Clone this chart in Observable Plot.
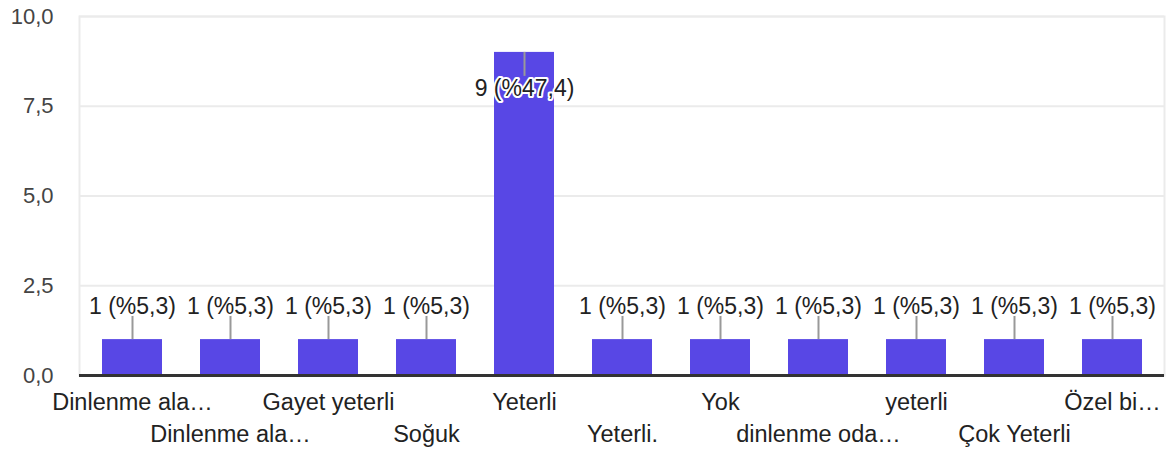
<!DOCTYPE html>
<html><head><meta charset="utf-8">
<script src="https://cdn.jsdelivr.net/npm/d3@7"></script>
<script src="https://cdn.jsdelivr.net/npm/@observablehq/plot@0.6"></script>
<style>body{margin:0;background:#fff}</style>
</head><body><div id="chart"></div>
<script>
const categories = ["Dinlenme ala…","Dinlenme ala…","Gayet yeterli","Soğuk","Yeterli","Yeterli.","Yok","dinlenme oda…","yeterli","Çok Yeterli","Özel bi…"];
const counts = [1,1,1,1,9,1,1,1,1,1,1];
const yTicks = [0,2.5,5,7.5,10];

const W = 1166, H = 455, mL = 79, mR = 2, mT = 16, mB = 80;
const yMax = 10;
const total = d3.sum(counts);
const fmt = v => v.toFixed(1).replace(".", ",");
const data = counts.map((c, i) => ({i, count: c, label: `${c} (%${fmt(c / total * 100)})`}));
const pxPerUnit = (H - mT - mB) / yMax;
const stem = 24 / pxPerUnit;
const labelUnits = 22 / pxPerUnit;
const inside = d => d.count + stem + labelUnits > yMax;
const idx = data.map(d => d.i);

const chart = Plot.plot({
  width: W, height: H,
  marginLeft: mL, marginRight: mR, marginTop: mT, marginBottom: mB,
  style: {fontFamily: "'Liberation Sans', Arial, sans-serif", fontSize: "22px", background: "#fff"},
  x: {type: "band", domain: idx, padding: 0, label: null},
  y: {domain: [0, yMax], label: null},
  marks: [
    Plot.gridY(yTicks, {stroke: "#ebebeb", strokeOpacity: 1, strokeWidth: 2}),
    Plot.frame({stroke: "#ebebeb", strokeWidth: 2}),
    Plot.barY(data, {x: "i", y: "count", fill: "#5847e5", insetLeft: 19, insetRight: 19}),
    Plot.ruleY([0], {stroke: "#333", strokeWidth: 3}),
    Plot.ruleX(data, {x: "i", y1: "count", y2: d => inside(d) ? d.count - stem : d.count + stem, stroke: "#999", strokeWidth: 2}),
    Plot.text(data.filter(d => !inside(d)), {x: "i", y: d => d.count + stem, text: "label", lineAnchor: "bottom", dy: -2, fontSize: 23, fill: "#222", stroke: "white", strokeWidth: 4, paintOrder: "stroke"}),
    Plot.text(data.filter(d => inside(d)), {x: "i", y: d => d.count - stem, text: "label", lineAnchor: "top", dy: 3, fontSize: 23, fill: "#222", stroke: "white", strokeWidth: 4, paintOrder: "stroke"}),
    Plot.axisY({ticks: yTicks, tickSize: 0, tickPadding: 26, fontSize: 22, fill: "#444", tickFormat: fmt, label: null}),
    Plot.axisX({ticks: idx.filter(i => i % 2 === 0), tickSize: 0, tickPadding: 18, fontSize: 23.5, fill: "#222", tickFormat: i => categories[i], label: null}),
    Plot.axisX({ticks: idx.filter(i => i % 2 === 1), tickSize: 0, tickPadding: 50, fontSize: 23.5, fill: "#222", tickFormat: i => categories[i], label: null})
  ]
});
document.getElementById("chart").append(chart);
</script>
</body></html>
